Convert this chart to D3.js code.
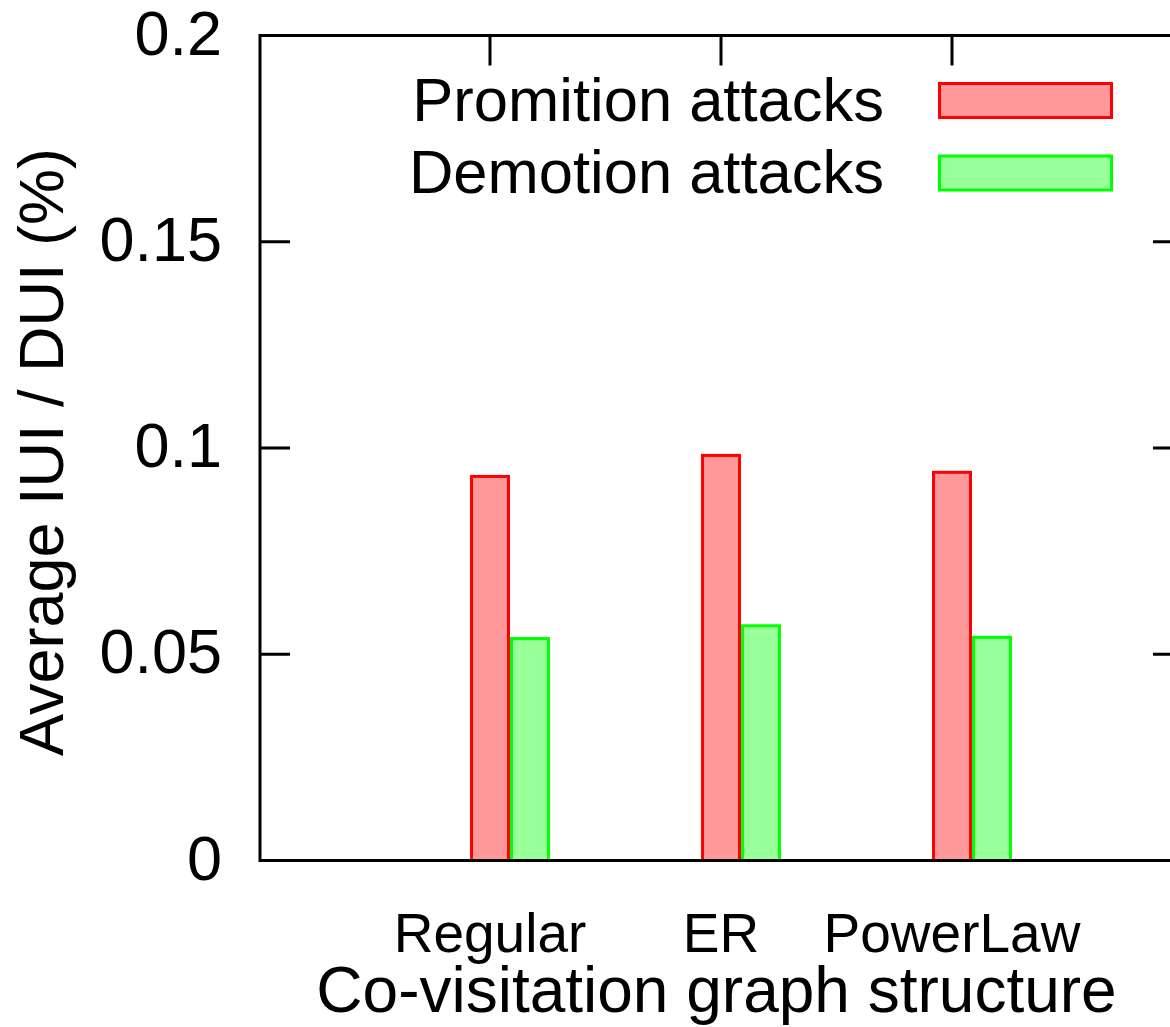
<!DOCTYPE html>
<html>
<head>
<meta charset="utf-8">
<script src="https://cdn.jsdelivr.net/npm/d3@7"></script>
<style>
  html, body { margin: 0; padding: 0; background: #fff; }
  svg { display: block; }
  text { font-family: "Liberation Sans", Arial, Helvetica, sans-serif; fill: #000; }
</style>
</head>
<body>
<svg id="chart" width="1170" height="1027"></svg>
<script>
// Graph structures on the x axis
const categories = ["Regular", "ER", "PowerLaw"];
// Average IUI / DUI (%) per structure
const promotionValues = [0.0931, 0.0982, 0.0941];
const demotionValues  = [0.0538, 0.0569, 0.0541];
const seriesNames = ["Promition attacks", "Demotion attacks"];
const yTicks = [0, 0.05, 0.1, 0.15, 0.2];
const yTickLabels = ["0", "0.05", "0.1", "0.15", "0.2"];

const series = [
  { name: seriesNames[0], values: promotionValues, fill: "#ff9999", stroke: "#ff0000" },
  { name: seriesNames[1], values: demotionValues,  fill: "#99ff99", stroke: "#00ff00" }
];

const svg = d3.select("#chart");
const frame = { left: 260, right: 1183, top: 35.5, bottom: 860.5 };

// x: category index, one unit per group, with a unit of padding at each end
const x = d3.scaleLinear().domain([-1, 3]).range([frame.left - 1, frame.right]);
const y = d3.scaleLinear().domain([0, 0.2]).range([frame.bottom, frame.top]);

const barW = 0.173;                       // width of one bar in category units
const barStart = [-barW / 2, barW / 2];   // left edge of each series relative to the tick
const sw = 3;                             // stroke width

const tickLen = 30;

// ticks on all four sides, pointing inward
const axisG = svg.append("g").attr("stroke", "#000").attr("stroke-width", sw);
yTicks.forEach(v => {
  axisG.append("line").attr("x1", frame.left).attr("x2", frame.left + tickLen)
    .attr("y1", y(v)).attr("y2", y(v));
  axisG.append("line").attr("x1", frame.right).attr("x2", frame.right - tickLen)
    .attr("y1", y(v)).attr("y2", y(v));
});
categories.forEach((c, i) => {
  axisG.append("line").attr("x1", x(i)).attr("x2", x(i))
    .attr("y1", frame.top).attr("y2", frame.top + tickLen);
  axisG.append("line").attr("x1", x(i)).attr("x2", x(i))
    .attr("y1", frame.bottom).attr("y2", frame.bottom - tickLen);
});

// bars (outer edge spans one bar width)
series.forEach((s, si) => {
  svg.append("g").selectAll("rect")
    .data(s.values)
    .join("rect")
    .attr("x", (d, i) => x(i + barStart[si]) + sw / 2)
    .attr("width", x(barW) - x(0) - sw)
    .attr("y", d => y(d))
    .attr("height", d => y(0) - y(d))
    .attr("fill", s.fill)
    .attr("stroke", s.stroke)
    .attr("stroke-width", sw);
});

// frame
svg.append("rect")
  .attr("x", frame.left).attr("y", frame.top)
  .attr("width", frame.right - frame.left).attr("height", frame.bottom - frame.top)
  .attr("fill", "none").attr("stroke", "#000").attr("stroke-width", sw);

// y tick labels
svg.append("g").selectAll("text")
  .data(yTicks)
  .join("text")
  .attr("x", 222)
  .attr("y", d => y(d) + 19)
  .attr("text-anchor", "end")
  .attr("font-size", 63)
  .text((d, i) => yTickLabels[i]);

// x tick labels
svg.append("g").selectAll("text")
  .data(categories)
  .join("text")
  .attr("x", (d, i) => x(i))
  .attr("y", 952)
  .attr("text-anchor", "middle")
  .attr("font-size", 55)
  .text(d => d);

// axis titles
svg.append("text")
  .attr("x", (frame.left + frame.right) / 2 - 5)
  .attr("y", 1012)
  .attr("text-anchor", "middle")
  .attr("font-size", 64)
  .text("Co-visitation graph structure");

svg.append("text")
  .attr("transform", `translate(63,${(frame.top + frame.bottom) / 2 + 4}) rotate(-90)`)
  .attr("text-anchor", "middle")
  .attr("font-size", 63)
  .text("Average IUI / DUI (%)");

// legend
const legend = svg.append("g");
series.forEach((s, si) => {
  const cy = 100.5 + si * 72.5;
  legend.append("text")
    .attr("x", 884).attr("y", cy + 20)
    .attr("text-anchor", "end")
    .attr("font-size", 61.5)
    .text(s.name);
  legend.append("rect")
    .attr("x", 939.5).attr("y", cy - 17)
    .attr("width", 172).attr("height", 34)
    .attr("fill", s.fill).attr("stroke", s.stroke).attr("stroke-width", sw);
});
</script>
</body>
</html>
